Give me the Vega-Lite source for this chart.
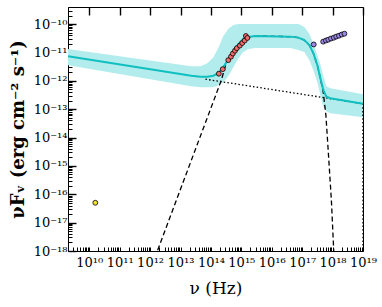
{
  "$schema": "https://vega.github.io/schema/vega-lite/v6.json",
  "width": 295,
  "height": 244,
  "autosize": {"type": "none"},
  "padding": {"left": 68, "top": 7, "right": 19, "bottom": 56},
  "background": "white",
  "config": {
    "view": {"stroke": "black", "strokeWidth": 1},
    "font": "DejaVu Serif",
    "axis": {
      "domain": false,
      "grid": true,
      "gridDash": [8, 2000],
      "gridWidth": 1.4,
      "gridColor": "black",
      "tickColor": "black",
      "labelColor": "black",
      "labelFont": "DejaVu Serif",
      "labelFontSize": 13,
      "titleFont": "DejaVu Serif",
      "titleColor": "black",
      "labelOverlap": false,
      "labelFlush": false
    }
  },
  "datasets": {
    "band": [
      {"nu": 2e9, "F": 7.40e-12, "hi": 1.31e-11, "lo": 3.56e-12},
      {"nu": 2.26e13, "F": 1.51e-12, "hi": 3.28e-12, "lo": 6.44e-13},
      {"nu": 4.48e13, "F": 1.40e-12, "hi": 3.28e-12, "lo": 5.94e-13},
      {"nu": 7.62e13, "F": 1.40e-12, "hi": 4.19e-12, "lo": 5.94e-13},
      {"nu": 1.20e14, "F": 1.51e-12, "hi": 6.82e-12, "lo": 5.94e-13},
      {"nu": 1.75e14, "F": 1.86e-12, "hi": 1.42e-11, "lo": 7.00e-13},
      {"nu": 2.56e14, "F": 3.03e-12, "hi": 3.77e-11, "lo": 8.93e-13},
      {"nu": 3.73e14, "F": 5.79e-12, "hi": 6.65e-11, "lo": 1.46e-12},
      {"nu": 5.46e14, "F": 1.11e-11, "hi": 9.23e-11, "lo": 3.03e-12},
      {"nu": 7.96e14, "F": 1.96e-11, "hi": 1.00e-10, "lo": 6.30e-12},
      {"nu": 1.16e15, "F": 2.95e-11, "hi": 1.00e-10, "lo": 1.03e-11},
      {"nu": 1.70e15, "F": 3.48e-11, "hi": 1.00e-10, "lo": 1.31e-11},
      {"nu": 2.89e15, "F": 3.77e-11, "hi": 1.00e-10, "lo": 1.42e-11},
      {"nu": 4.09e16, "F": 3.61e-11, "hi": 1.00e-10, "lo": 1.42e-11},
      {"nu": 7.50e16, "F": 3.33e-11, "hi": 1.00e-10, "lo": 1.21e-11},
      {"nu": 1.18e17, "F": 2.72e-11, "hi": 7.83e-11, "lo": 1.03e-11},
      {"nu": 1.73e17, "F": 1.81e-11, "hi": 4.44e-11, "lo": 5.35e-12},
      {"nu": 2.33e17, "F": 9.44e-12, "hi": 2.13e-11, "lo": 2.37e-12},
      {"nu": 3.16e17, "F": 3.56e-12, "hi": 8.04e-12, "lo": 8.93e-13},
      {"nu": 3.97e17, "F": 1.24e-12, "hi": 3.86e-12, "lo": 3.10e-13},
      {"nu": 4.98e17, "F": 4.66e-13, "hi": 1.46e-12, "lo": 1.17e-13},
      {"nu": 6.25e17, "F": 2.74e-13, "hi": 6.44e-13, "lo": 8.43e-14},
      {"nu": 8.47e17, "F": 2.43e-13, "hi": 5.48e-13, "lo": 7.16e-14},
      {"nu": 1e19, "F": 1.55e-13, "hi": 3.37e-13, "lo": 5.18e-14}
    ],
    "dashed": [
      {"nu": 1.16e12, "F": 3.16e-19},
      {"nu": 2.20e14, "F": 1.05e-12},
      {"nu": 2.98e14, "F": 3.28e-12},
      {"nu": 4.35e14, "F": 7.40e-12},
      {"nu": 7.96e14, "F": 1.96e-11},
      {"nu": 1.16e15, "F": 2.95e-11},
      {"nu": 1.70e15, "F": 3.48e-11},
      {"nu": 2.89e15, "F": 3.77e-11},
      {"nu": 4.09e16, "F": 3.61e-11},
      {"nu": 7.50e16, "F": 3.33e-11},
      {"nu": 1.18e17, "F": 2.72e-11},
      {"nu": 1.73e17, "F": 1.81e-11},
      {"nu": 2.33e17, "F": 9.44e-12},
      {"nu": 3.16e17, "F": 3.56e-12},
      {"nu": 3.97e17, "F": 1.24e-12},
      {"nu": 4.98e17, "F": 3.65e-13},
      {"nu": 6.03e17, "F": 6.08e-14},
      {"nu": 7.28e17, "F": 2.77e-15},
      {"nu": 9.14e17, "F": 6.04e-17},
      {"nu": 1.15e18, "F": 3.0e-19}
    ],
    "dotted": [
      {"nu": 6.61e13, "F": 1.14e-12},
      {"nu": 9.9e18, "F": 1.56e-13},
      {"nu": 1e19, "F": 1e-19}
    ],
    "pts": [
      {"nu": 1.82e14, "F": 1.78e-12, "grp": "opt"},
      {"nu": 2.45e14, "F": 2.57e-12, "grp": "opt"},
      {"nu": 3.72e14, "F": 5.37e-12, "grp": "opt"},
      {"nu": 4.57e14, "F": 7.08e-12, "grp": "opt"},
      {"nu": 5.25e14, "F": 9.12e-12, "grp": "opt"},
      {"nu": 6.17e14, "F": 1.15e-11, "grp": "opt"},
      {"nu": 7.08e14, "F": 1.41e-11, "grp": "opt"},
      {"nu": 8.91e14, "F": 1.74e-11, "grp": "opt"},
      {"nu": 1.07e15, "F": 2.14e-11, "grp": "opt"},
      {"nu": 1.29e15, "F": 2.63e-11, "grp": "opt"},
      {"nu": 1.41e15, "F": 3.80e-11, "grp": "opt"},
      {"nu": 1.58e15, "F": 3.24e-11, "grp": "opt"},
      {"nu": 2.40e17, "F": 1.91e-11, "grp": "xray"},
      {"nu": 4.90e17, "F": 2.40e-11, "grp": "xray"},
      {"nu": 6.03e17, "F": 2.63e-11, "grp": "xray"},
      {"nu": 7.24e17, "F": 2.82e-11, "grp": "xray"},
      {"nu": 8.91e17, "F": 3.09e-11, "grp": "xray"},
      {"nu": 1.10e18, "F": 3.31e-11, "grp": "xray"},
      {"nu": 1.32e18, "F": 3.63e-11, "grp": "xray"},
      {"nu": 1.62e18, "F": 3.89e-11, "grp": "xray"},
      {"nu": 2.00e18, "F": 4.27e-11, "grp": "xray"},
      {"nu": 2.45e18, "F": 4.57e-11, "grp": "xray"},
      {"nu": 1.58e10, "F": 5.01e-17, "grp": "radio"}
    ]
  },
  "layer": [
    {
      "data": {"name": "band"},
      "mark": {"type": "area", "color": "#B3ECEC", "opacity": 1, "clip": true},
      "encoding": {
        "x": {
          "field": "nu", "type": "quantitative",
          "scale": {"type": "log", "domain": [2e9, 1e19], "nice": false},
          "axis": {
            "title": "ν (Hz)",
            "titleFontSize": 17,
            "titleFontWeight": "normal",
            "titlePadding": 11,
            "tickCount": 100,
            "tickWidth": 1,
            "tickSize": -4,
            "gridOpacity": {"condition": {"test": "abs(log(datum.value)/LN10 - round(log(datum.value)/LN10)) < 0.001", "value": 1}, "value": 0},
            "labelPadding": 9,
            "labelExpr": "abs(log(datum.value)/LN10 - round(log(datum.value)/LN10)) < 0.001 ? '10' + ['¹⁰','¹¹','¹²','¹³','¹⁴','¹⁵','¹⁶','¹⁷','¹⁸','¹⁹'][round(log(datum.value)/LN10) - 10] : ''"
          }
        },
        "y": {
          "field": "lo", "type": "quantitative",
          "scale": {"type": "log", "domain": [1e-18, 4e-10], "nice": false},
          "axis": {
            "title": "νFᵥ (erg cm⁻² s⁻¹)",
            "titleFontSize": 18,
            "titleFontWeight": "bold",
            "titlePadding": 6,
            "tickCount": 100,
            "tickWidth": 1,
            "tickSize": -4,
            "gridOpacity": {"condition": {"test": "abs(log(datum.value)/LN10 - round(log(datum.value)/LN10)) < 0.001", "value": 1}, "value": 0},
            "labelPadding": 5,
            "labelExpr": "abs(log(datum.value)/LN10 - round(log(datum.value)/LN10)) < 0.001 ? '10⁻' + ['¹⁰','¹¹','¹²','¹³','¹⁴','¹⁵','¹⁶','¹⁷','¹⁸','¹⁹'][-round(log(datum.value)/LN10) - 10] : ''"
          }
        },
        "y2": {"field": "hi"}
      }
    },
    {
      "data": {"name": "dashed"},
      "mark": {"type": "line", "color": "black", "strokeWidth": 1.3, "strokeDash": [5, 3], "clip": true},
      "encoding": {
        "x": {"field": "nu", "type": "quantitative"},
        "y": {"field": "F", "type": "quantitative"}
      }
    },
    {
      "data": {"name": "dotted"},
      "mark": {"type": "line", "color": "black", "strokeWidth": 1.3, "strokeDash": [1.5, 2.2], "clip": true},
      "encoding": {
        "x": {"field": "nu", "type": "quantitative"},
        "y": {"field": "F", "type": "quantitative"}
      }
    },
    {
      "data": {"name": "band"},
      "mark": {"type": "line", "color": "#10BFBF", "strokeWidth": 2, "clip": true},
      "encoding": {
        "x": {"field": "nu", "type": "quantitative"},
        "y": {"field": "F", "type": "quantitative"}
      }
    },
    {
      "data": {"name": "pts"},
      "mark": {"type": "point", "shape": "circle", "filled": true, "size": 24, "stroke": "black", "strokeWidth": 0.8, "opacity": 1},
      "encoding": {
        "x": {"field": "nu", "type": "quantitative"},
        "y": {"field": "F", "type": "quantitative"},
        "fill": {
          "field": "grp", "type": "nominal",
          "scale": {"domain": ["opt", "xray", "radio"], "range": ["#F26B6B", "#9B87E6", "#F5E02A"]},
          "legend": null
        }
      }
    }
  ]
}
